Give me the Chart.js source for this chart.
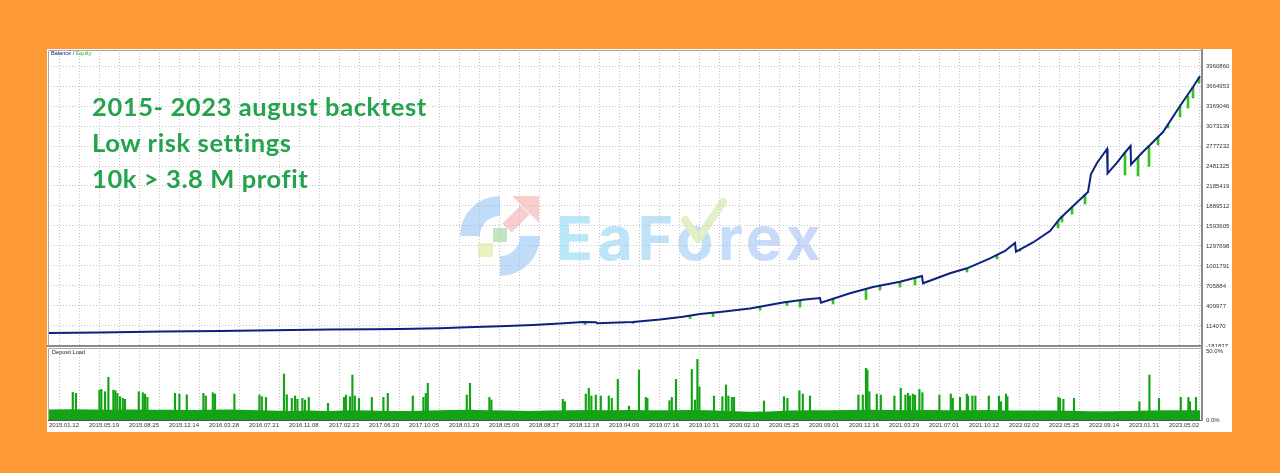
<!DOCTYPE html>
<html><head><meta charset="utf-8">
<script src="https://cdn.jsdelivr.net/npm/chart.js@4/dist/chart.umd.min.js"></script>
<style>
html,body{margin:0;padding:0;background:#fd9a36;width:1280px;height:473px;overflow:hidden;}
#panel{position:absolute;left:47px;top:49px;width:1185px;height:383px;background:#fff;}
#main{position:absolute;left:0;top:0;}
#load{position:absolute;left:0;top:298px;}
.lbl{position:absolute;font-family:'Liberation Sans',Arial,sans-serif;font-size:5.6px;line-height:1;white-space:nowrap;}
#note{position:absolute;left:45px;top:39px;font-family:Lato,sans-serif;font-weight:700;font-size:25.5px;letter-spacing:0.6px;line-height:36px;color:#23a34d;white-space:nowrap;}
#wm{position:absolute;left:408px;top:141px;opacity:.55;}
</style></head>
<body>
<div id="panel">
  <canvas id="main" width="1185" height="298"></canvas>
  <canvas id="load" width="1185" height="85"></canvas>
  <svg id="wm" width="390" height="92" viewBox="0 0 390 92">
    <defs><linearGradient id="g" x1="0" x2="1" y1="0" y2="0"><stop offset="0" stop-color="#7fd6f4"/><stop offset="1" stop-color="#a3b6f4"/></linearGradient></defs>
    <path d="M15 46 A30 30 0 0 1 45 16" fill="none" stroke="#8cc0f2" stroke-width="20"/>
    <path d="M75 46 A30 30 0 0 1 45 76" fill="none" stroke="#8cc0f2" stroke-width="20"/>
    <path d="M52 38 L70 20" stroke="#f4a6a6" stroke-width="13"/>
    <polygon points="57,6 84,6 84,33" fill="#f4a6a6"/>
    <rect x="38" y="38" width="14" height="14" fill="#8fcf8f"/>
    <rect x="23" y="53" width="15" height="14" fill="#dde88a"/>
    <text x="101" y="70" font-family="Inter" font-weight="700" font-size="61" fill="url(#g)" letter-spacing="4.5">EaForex</text>
    <polyline points="230,30 243,49 268,12" fill="none" stroke="#c6e39a" stroke-width="8" stroke-linecap="round" stroke-linejoin="round"/>
  </svg>
  <div id="note">2015- 2023 august backtest<br>Low risk settings<br>10k &gt; 3.8 M profit</div>
  <div class="lbl" style="left:4px;top:1.5px"><span style="color:#0b1d8a">Balance / </span><span style="color:#2fb52f">Equity</span></div>
  <div class="lbl" style="left:5px;top:301px;color:#222">Deposit Load</div>
</div>
<script>
// ---- data ----
const yTicks = [-181837, 114070, 409977, 705884, 1001791, 1297698, 1593605, 1889512, 2185419, 2481325, 2777232, 3073139, 3369046, 3664953, 3960860];
const loadTicks = [0, 50];
const dateLabels = ['2015.01.12','2015.05.19','2015.08.25','2015.12.14','2016.03.28','2016.07.21','2016.11.08','2017.02.23','2017.06.20','2017.10.05','2018.01.29','2018.05.09','2018.08.27','2018.12.18','2019.04.09','2019.07.16','2019.10.31','2020.02.10','2020.05.25','2020.09.01','2020.12.16','2021.03.29','2021.07.01','2021.10.12','2022.02.02','2022.05.25','2022.09.14','2023.01.31','2023.05.02'];
const balance = [[0,10000],[2.55,16400],[5.7,31200],[8.55,40100],[11.2,51900],[14.05,60800],[16.2,66700],[17.55,69700],[19.55,81500],[20.9,94800],[22.55,109600],[24.2,128900],[25.55,151100],[26.7,173300],[27.35,170300],[27.4,154000],[29.2,173300],[30.55,210200],[31.7,251700],[32.55,291600],[33.55,321200],[35.05,373000],[36.7,461800],[37.8,506100],[38.55,528300],[38.6,458800],[40.05,597900],[41.2,691100],[42.55,769500],[43.65,853800],[43.7,745800],[45.05,893800],[45.9,967800],[47.05,1115700],[47.8,1223700],[48.3,1342100],[48.35,1213400],[49.2,1349500],[50.05,1519600],[50.55,1704600],[51.05,1845100],[51.95,2096600],[52.1,2363000],[52.4,2525700],[52.9,2732800],[52.93,2373300],[53.4,2530000],[53.8,2681000],[54.08,2777200],[54.1,2503500],[54.7,2692900],[55.05,2792000],[55.7,2984400],[56.55,3369000],[57.2,3650200],[57.55,3812900]];
const equityDips = [[26.8,136300,173300],[29.2,151100,173300],[32.05,225000,257600],[33.2,254600,306400],[35.55,350800,395200],[36.9,417400,461800],[37.55,395200,491400],[39.2,439600,516400],[40.85,506100,654100],[41.55,646700,711300],[42.55,691100,769500],[43.3,720700,826800],[45.9,913000,967800],[47.4,1105400,1164500],[48.55,1223700,1245300],[50.45,1564000,1660200],[50.65,1652800,1732600],[51.15,1771100,1867300],[51.8,1919100,2054700],[53.8,2348200,2681000],[54.45,2333400,2610000],[55.0,2473900,2777200],[55.45,2792000,2903000],[55.95,3043500,3097000],[56.55,3206300,3369000],[56.95,3339500,3517000],[57.2,3487400,3650200],[57.5,3709300,3789000]];
const loadBase = [[0,7.6],[1,7.8],[2,7.6],[3,7.4],[4,7.6],[5,7.5],[6,7.5],[7,7.3],[8,7.4],[9,7.6],[10,7.2],[11,6.8],[12,6.6],[13,6.8],[14,6.5],[15,7.0],[16,6.8],[17,6.6],[18,6.6],[19,6.8],[20,7.2],[21,7.4],[22,7.0],[23,6.8],[24,6.6],[25,6.8],[26,7.0],[27,7.2],[28,7.0],[29,7.2],[30,7.0],[31,7.0],[32,7.2],[33,7.0],[34,6.6],[35,5.9],[36,6.2],[37,6.8],[38,7.0],[39,7.0],[40,7.2],[41,7.4],[42,7.2],[43,7.0],[44,7.2],[45,7.0],[46,7.0],[47,7.2],[48,6.8],[49,6.8],[50,6.9],[51,6.7],[52,6.4],[53,6.4],[54,6.6],[55,6.9],[56,7.0],[57,7.0],[57.55,7.0]];
const loadSpikes = [[1.19,20.0],[1.35,19.3],[2.52,21.7],[2.62,22.2],[2.8,20.5],[2.97,31.0],[3.22,21.7],[3.32,21.2],[3.42,19.3],[3.55,16.9],[3.69,15.7],[3.8,15.0],[4.49,20.5],[4.69,19.8],[4.8,18.8],[4.92,16.4],[6.3,19.3],[6.52,18.8],[6.89,18.3],[7.72,19.3],[7.84,17.4],[8.19,19.8],[8.3,18.8],[9.27,18.8],[10.52,18.1],[10.64,16.9],[10.85,16.4],[11.75,33.3],[11.89,18.3],[12.14,15.7],[12.3,17.4],[12.42,15.0],[12.67,15.7],[12.8,14.5],[12.99,16.4],[13.95,12.1],[14.75,16.4],[14.85,18.1],[15.05,16.9],[15.17,32.6],[15.29,17.4],[15.5,15.7],[16.14,16.4],[16.72,16.4],[16.94,19.3],[18.19,17.4],[18.72,16.4],[18.84,19.3],[18.94,26.6],[20.89,18.1],[21.05,26.6],[22.02,16.4],[22.12,14.5],[25.69,15.0],[25.79,13.3],[26.84,18.8],[26.99,23.0],[27.12,17.4],[27.34,18.1],[27.59,17.4],[27.99,17.4],[28.14,15.7],[28.44,29.5],[29.0,10.1],[29.5,36.2],[29.84,16.4],[29.92,15.7],[31.02,14.0],[31.14,16.4],[31.35,29.5],[32.14,36.7],[32.3,14.5],[32.42,44.0],[32.52,24.1],[33.25,17.4],[33.67,16.9],[33.85,25.4],[33.97,17.4],[34.14,16.4],[34.25,16.4],[35.75,13.8],[36.75,16.9],[36.92,15.7],[37.52,21.2],[37.69,18.8],[38.05,17.4],[40.47,18.1],[40.69,18.1],[40.85,37.5],[40.92,36.2],[41.02,20.5],[41.39,18.8],[41.59,18.1],[42.27,17.4],[42.59,23.0],[42.82,18.1],[42.95,19.3],[43.05,17.4],[43.19,18.8],[43.3,18.1],[43.52,22.2],[43.67,19.8],[44.52,18.1],[45.09,18.8],[45.19,15.7],[45.55,16.4],[45.89,18.8],[45.95,17.4],[46.17,17.4],[46.32,17.4],[46.99,17.4],[47.5,17.4],[47.6,13.3],[47.85,18.8],[47.92,16.9],[50.47,16.4],[50.55,15.7],[50.72,15.0],[51.25,15.7],[54.52,13.3],[55.02,32.6],[55.5,15.7],[56.59,16.4],[56.97,16.4],[57.05,13.3],[57.35,16.4]];

// ---- styling ----
const GRID = '#c4c4c4';
const AXIS = '#8a8a8a';
const FONT = {family:"'Liberation Sans', Arial, sans-serif", size:6};
const X_MIN = -0.05, X_MAX = 57.65, Y_MAX = 4197586, LOAD_MAX = 52.2;
const xGridCount = 58;
const setXGrid = s => { const t = []; for (let i = 0; i < xGridCount; i++) t.push({value:i}); s.ticks = t; };
const frame = {id:'frame', beforeDatasetsDraw(c){const a=c.chartArea,ctx=c.ctx;ctx.save();ctx.strokeStyle='#a8a8a8';ctx.lineWidth=1;ctx.beginPath();ctx.moveTo(a.left+0.5,a.bottom);ctx.lineTo(a.left+0.5,a.top+0.5);ctx.lineTo(a.right,a.top+0.5);ctx.stroke();ctx.restore();}};
const common = {responsive:false, animation:false, devicePixelRatio:1, plugins:{legend:{display:false}, tooltip:{enabled:false}}};

new Chart(document.getElementById('main'), {
  type:'line',
  data:{datasets:[
    {type:'line', label:'Balance', data: balance.map(([x,y])=>({x,y})), borderColor:'#0d2180', borderWidth:2, pointRadius:0, tension:0, fill:false, order:0},
    {type:'bar', label:'Equity', data: equityDips.map(([x,lo,hi])=>({x,y:[lo,hi]})), backgroundColor:'#35c21f', barThickness:2, order:1}
  ]},
  options:Object.assign({}, common, {
    layout:{padding:{left:1, top:1, bottom:1, right:0}},
    scales:{
      x:{type:'linear', min:X_MIN, max:X_MAX, offset:false, afterBuildTicks:setXGrid,
         ticks:{display:false}, grid:{color:GRID, lineWidth:1, drawTicks:false},
         border:{display:true, color:AXIS, width:2, dash:[1,2]},
         afterFit:s=>{s.height=0; s.paddingLeft=0; s.paddingRight=0;}},
      y:{type:'linear', position:'right', min:yTicks[0], max:Y_MAX,
         afterBuildTicks:s=>{s.ticks=yTicks.map(v=>({value:v}));},
         ticks:{font:FONT, color:'#333', padding:4, callback:v=>String(v)},
         grid:{color:GRID, lineWidth:1, drawTicks:false},
         border:{display:true, color:AXIS, width:2, dash:[1,2]},
         afterFit:s=>{s.width=30; s.paddingTop=0; s.paddingBottom=0;}}
    }
  }),
  plugins:[frame]
});

new Chart(document.getElementById('load'), {
  type:'line',
  data:{datasets:[
    {type:'line', label:'Deposit Load', data: loadBase.map(([x,y])=>({x,y})), borderWidth:0, borderColor:'#14a314', backgroundColor:'#14a314', pointRadius:0, fill:'origin', tension:0, order:1},
    {type:'bar', label:'Deposit Load peaks', data: loadSpikes.map(([x,y])=>({x,y})), backgroundColor:'#14a314', barThickness:1.5, order:0}
  ]},
  options:Object.assign({}, common, {
    layout:{padding:{left:1, top:1, bottom:0, right:0}},
    scales:{
      x:{type:'linear', min:X_MIN, max:X_MAX, offset:false, afterBuildTicks:setXGrid,
         ticks:{font:FONT, color:'#333', padding:1.5, align:'start', autoSkip:false, maxRotation:0, minRotation:0,
                callback:v=> (v % 2 === 0 ? (dateLabels[v/2] || '') : '')},
         grid:{color:GRID, lineWidth:1, drawTicks:false},
         border:{display:true, color:'#555', width:1, dash:[1,2]},
         afterFit:s=>{s.height=12; s.paddingLeft=0; s.paddingRight=0;}},
      y:{type:'linear', position:'right', min:0, max:LOAD_MAX,
         afterBuildTicks:s=>{s.ticks=loadTicks.map(v=>({value:v}));},
         ticks:{font:FONT, color:'#333', padding:4, callback:v=>v.toFixed(1)+'%'},
         grid:{display:true, color:'rgba(0,0,0,0)', drawTicks:false},
         border:{display:true, color:AXIS, width:2},
         afterFit:s=>{s.width=30; s.paddingTop=0; s.paddingBottom=0;}}
    }
  }),
  plugins:[frame]
});
</script>
</body></html>
